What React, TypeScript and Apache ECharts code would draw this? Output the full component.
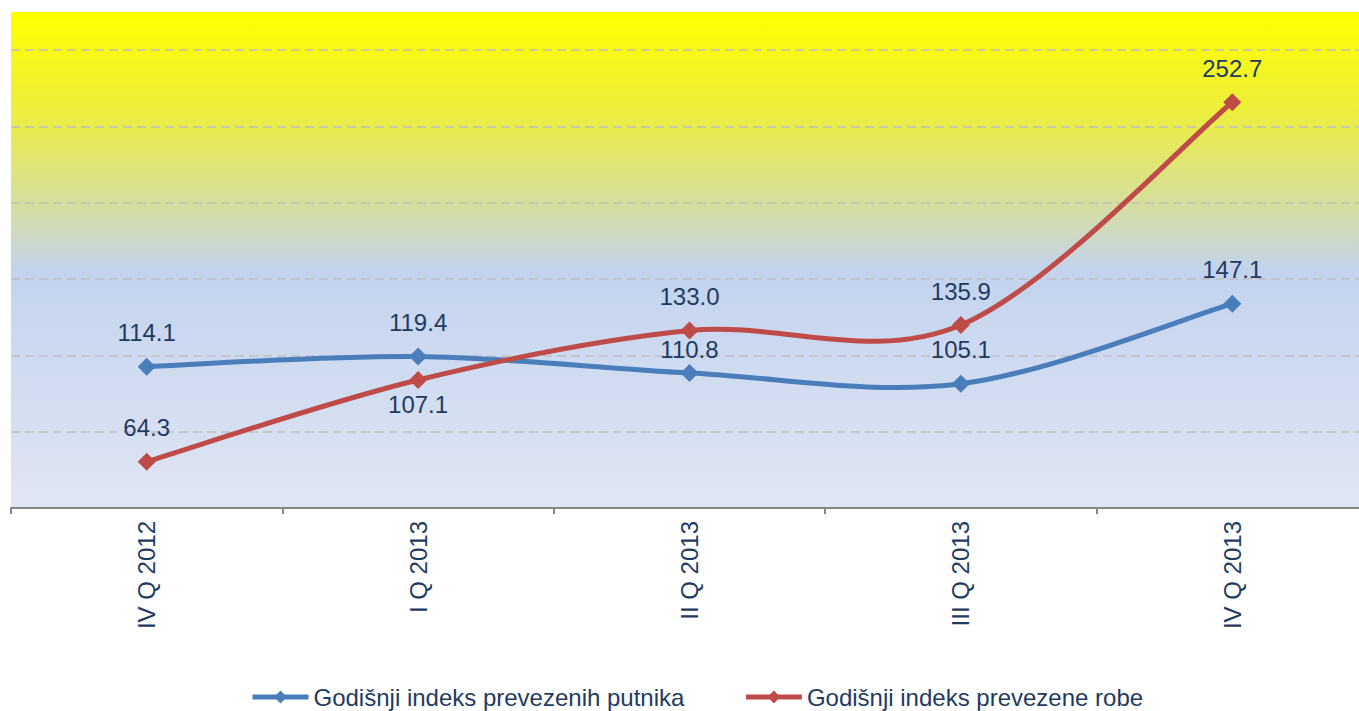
import { useEffect, useRef } from "react";
import * as echarts from "echarts";

const categories = ["IV Q 2012", "I Q 2013", "II Q 2013", "III Q 2013", "IV Q 2013"];
const passengers = [114.1, 119.4, 110.8, 105.1, 147.1];
const goods = [64.3, 107.1, 133.0, 135.9, 252.7];
const seriesNames = ["Godišnji indeks prevezenih putnika", "Godišnji indeks prevezene robe"];

const Y_MIN = 40;
const Y_MAX = 300;
const Y_STEP = 40;

const FONT = "'Liberation Sans', Arial, sans-serif";
const TEXT = "#1F3B62";
const BLUE = "#4A7EBB";
const RED = "#BE4B48";

function labelled(values: number[], placement: { pos: string; dist: number }[]) {
  return values.map((v, i) => ({
    value: v,
    label: { position: placement[i].pos, distance: placement[i].dist },
  }));
}

// Excel-like smoothed line (Catmull-Rom, drawn as cubic Bezier segments) via the library's coordinate system
function curveSeries(values: number[], color: string) {
  return {
    type: "custom",
    silent: true,
    z: 2,
    data: values.map((v, i) => [i, v]),
    renderItem: (params: any, api: any) => {
      const i = params.dataIndex;
      const n = values.length;
      if (i >= n - 1) return null;
      const pt = (j: number) => {
        const k = Math.max(0, Math.min(n - 1, j));
        return api.coord([k, values[k]]);
      };
      const p0 = pt(i - 1);
      const p1 = pt(i);
      const p2 = pt(i + 1);
      const p3 = pt(i + 2);
      return {
        type: "bezierCurve",
        shape: {
          x1: p1[0],
          y1: p1[1],
          cpx1: p1[0] + (p2[0] - p0[0]) / 6,
          cpy1: p1[1] + (p2[1] - p0[1]) / 6,
          cpx2: p2[0] - (p3[0] - p1[0]) / 6,
          cpy2: p2[1] - (p3[1] - p1[1]) / 6,
          x2: p2[0],
          y2: p2[1],
        },
        style: { stroke: color, lineWidth: 5, fill: null, lineCap: "round" },
      };
    },
  };
}

export default function App() {
  const ref = useRef<HTMLDivElement>(null);
  useEffect(() => {
    document.body.style.margin = "0";
    const chart = echarts.init(ref.current!, undefined, { renderer: "svg" });
    const lbl = {
      show: true,
      color: TEXT,
      fontSize: 24,
      fontFamily: FONT,
      formatter: (p: any) => Number(p.value).toFixed(1),
    };
    chart.setOption({
      animation: false,
      textStyle: { fontFamily: FONT },
      grid: {
        left: 11,
        width: 1357,
        top: 12,
        bottom: 203,
        outerBoundsMode: "none",
        containLabel: false,
        show: true,
        borderWidth: 0,
        backgroundColor: new echarts.graphic.LinearGradient(0, 0, 0, 1, [
          { offset: 0, color: "#FFFF00" },
          { offset: 0.2, color: "#EDEE3C" },
          { offset: 0.4, color: "#D4DDA6" },
          { offset: 0.52, color: "#C3D3EE" },
          { offset: 1, color: "#E0E6F3" },
        ]),
      },
      legend: {
        left: 245,
        top: 680,
        itemWidth: 56,
        itemHeight: 16,
        itemGap: 59,
        textStyle: { fontSize: 24, color: TEXT, fontFamily: FONT },
        data: [
          {
            name: seriesNames[0],
            itemStyle: { color: BLUE },
            lineStyle: { color: BLUE, width: 5, opacity: 1 },
          },
          {
            name: seriesNames[1],
            itemStyle: { color: RED },
            lineStyle: { color: RED, width: 5, opacity: 1 },
          },
        ],
      },
      xAxis: {
        type: "category",
        data: categories,
        boundaryGap: true,
        axisLine: { lineStyle: { color: "#868686", width: 2 } },
        axisTick: { show: true, length: 6, lineStyle: { color: "#868686", width: 2 } },
        axisLabel: {
          rotate: 90,
          margin: 13,
          fontSize: 24,
          color: TEXT,
          fontFamily: FONT,
        },
      },
      yAxis: {
        type: "value",
        min: Y_MIN,
        max: Y_MAX,
        interval: Y_STEP,
        axisLine: { show: false },
        axisTick: { show: false },
        axisLabel: { show: false },
        splitLine: {
          show: true,
          showMinLine: false,
          showMaxLine: false,
          lineStyle: { color: "#BFBFBF", width: 1.5, type: [9, 5] },
        },
      },
      series: [
        curveSeries(passengers, BLUE),
        {
          name: seriesNames[0],
          type: "line",
          z: 3,
          symbol: "diamond",
          symbolSize: 18,
          lineStyle: { color: BLUE, width: 5, opacity: 0 },
          itemStyle: { color: BLUE },
          label: lbl,
          data: labelled(passengers, [
            { pos: "top", dist: 13 },
            { pos: "top", dist: 13 },
            { pos: "top", dist: 2.5 },
            { pos: "top", dist: 13 },
            { pos: "top", dist: 13 },
          ]),
        },
        { ...curveSeries(goods, RED), z: 4 },
        {
          name: seriesNames[1],
          type: "line",
          z: 5,
          symbol: "diamond",
          symbolSize: 18,
          lineStyle: { color: RED, width: 5, opacity: 0 },
          itemStyle: { color: RED },
          label: lbl,
          data: labelled(goods, [
            { pos: "top", dist: 13 },
            { pos: "bottom", dist: 3.5 },
            { pos: "top", dist: 13 },
            { pos: "top", dist: 13 },
            { pos: "top", dist: 13 },
          ]),
        },
      ],
    });
    return () => chart.dispose();
  }, []);
  return <div ref={ref} style={{ width: 1359, height: 711 }} />;
}
